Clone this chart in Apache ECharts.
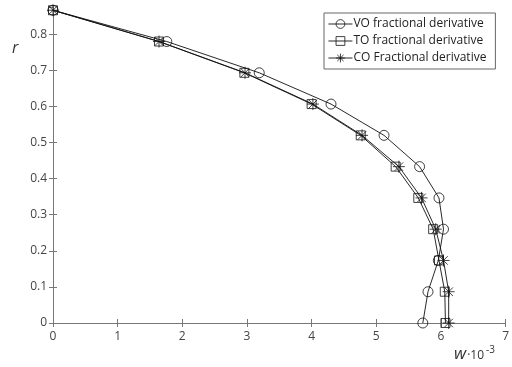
<!DOCTYPE html>
<html>
<head>
<meta charset="utf-8">
<script src="https://cdn.jsdelivr.net/npm/echarts@6/dist/echarts.min.js"></script>
<style>
  html, body { margin: 0; padding: 0; background: #fff; }
  #chart { width: 512px; height: 367px; }
</style>
</head>
<body>
<div id="chart"></div>
<script>
// Radial positions r and deflection w (×10^-3) for each derivative model
const rValues = [0, 0.0866, 0.1732, 0.2598, 0.3464, 0.4330, 0.5196, 0.6062, 0.6928, 0.7794, 0.8660];
const voValues = [5.72, 5.80, 5.96, 6.04, 5.97, 5.67, 5.12, 4.30, 3.19, 1.76, 0];
const toValues = [6.07, 6.06, 5.97, 5.88, 5.65, 5.30, 4.76, 4.00, 2.96, 1.64, 0];
const coValues = [6.12, 6.12, 6.04, 5.92, 5.70, 5.35, 4.78, 4.02, 2.97, 1.64, 0];
const seriesNames = ['VO fractional derivative', 'TO fractional derivative', 'CO Fractional derivative'];
const xTicks = [0, 1, 2, 3, 4, 5, 6, 7];
const yTicks = [0, 0.1, 0.2, 0.3, 0.4, 0.5, 0.6, 0.7, 0.8];

const FONT = '"Open Sans", "Noto Sans", sans-serif';
const AXIS_COLOR = '#777';
const LABEL_COLOR = '#444';
const LINE_COLOR = '#111';
const CLEAR = 'rgba(0,0,0,0)';

const pairs = (ws) => ws.map((w, i) => [w, rValues[i]]);
const asterisk = 'path://M0,-1L0,1M-1,0L1,0M-0.71,-0.71L0.71,0.71M-0.71,0.71L0.71,-0.71';

const baseAxis = {
  axisLine: { show: true, lineStyle: { color: AXIS_COLOR, width: 1 } },
  axisTick: { show: true, inside: true, length: 4, lineStyle: { color: AXIS_COLOR } },
  splitLine: { show: false }
};

const chart = echarts.init(document.getElementById('chart'), null, { renderer: 'canvas' });

// Outline-only markers: transparent fill, thin dark border, line visible through them
function lineSeries(name, values, symbol, size) {
  return {
    name: name,
    type: 'line',
    data: pairs(values),
    symbol: symbol,
    symbolSize: size,
    symbolKeepAspect: true,
    showSymbol: true,
    smooth: false,
    lineStyle: { color: LINE_COLOR, width: 0.9, type: 'solid' },
    itemStyle: { color: CLEAR, borderColor: LINE_COLOR, borderWidth: 0.8 },
    emphasis: { disabled: true },
    z: 3
  };
}

chart.setOption({
  animation: false,
  backgroundColor: '#fff',
  grid: { left: 53, right: 5, top: 7, bottom: 44, containLabel: false },
  xAxis: [
    Object.assign({}, baseAxis, {
      type: 'value', position: 'bottom', min: 0, max: 7, interval: 1,
      axisLabel: { color: LABEL_COLOR, fontFamily: FONT, fontSize: 12, margin: 8,
        formatter: (v) => xTicks.includes(v) ? String(v) : '' }
    }),
    Object.assign({}, baseAxis, {
      type: 'value', position: 'top', min: 0, max: 7, interval: 1,
      axisLabel: { show: false }
    })
  ],
  yAxis: [
    Object.assign({}, baseAxis, {
      type: 'value', position: 'left', min: 0, max: 0.875, interval: 0.1,
      axisLabel: { color: LABEL_COLOR, fontFamily: FONT, fontSize: 12, margin: 6,
        showMaxLabel: false,
        formatter: (v) => {
          const t = yTicks.find((y) => Math.abs(y - v) < 1e-9);
          return t === undefined ? '' : String(t);
        } }
    }),
    Object.assign({}, baseAxis, {
      type: 'value', position: 'right', min: 0, max: 0.875, interval: 0.1,
      axisLabel: { show: false }
    })
  ],
  legend: {
    show: true,
    orient: 'vertical',
    left: 324,
    top: 13,
    padding: [5, 9, 5, 4],
    itemGap: 5,
    itemWidth: 24,
    itemHeight: 11,
    backgroundColor: '#fff',
    borderColor: '#666',
    borderWidth: 1,
    borderRadius: 0,
    itemStyle: { color: CLEAR, borderColor: LINE_COLOR, borderWidth: 0.8 },
    lineStyle: { color: LINE_COLOR, width: 0.9 },
    textStyle: { color: '#222', fontFamily: FONT, fontSize: 12, padding: [0, 0, 0, -4] },
    data: seriesNames.map((n) => ({ name: n }))
  },
  series: [
    lineSeries(seriesNames[0], voValues, 'circle', 10),
    lineSeries(seriesNames[1], toValues, 'rect', 9),
    lineSeries(seriesNames[2], coValues, asterisk, 12)
  ],
  graphic: [
    {
      type: 'text', left: 12, top: 40,
      style: { text: 'r', fontFamily: FONT, fontStyle: 'italic', fontSize: 16, fill: '#333' }
    },
    {
      type: 'text', left: 454, top: 345,
      style: {
        text: '{w|w}{n|·10}{s|-3}',
        rich: {
          w: { fontFamily: FONT, fontStyle: 'italic', fontSize: 17, fill: '#333', verticalAlign: 'bottom' },
          n: { fontFamily: FONT, fontSize: 12, fill: '#333', verticalAlign: 'bottom', padding: [0, 0, 1, 1] },
          s: { fontFamily: FONT, fontSize: 10, fill: '#333', verticalAlign: 'top', padding: [0, 0, 8, 2] }
        }
      }
    }
  ]
});
</script>
</body>
</html>
